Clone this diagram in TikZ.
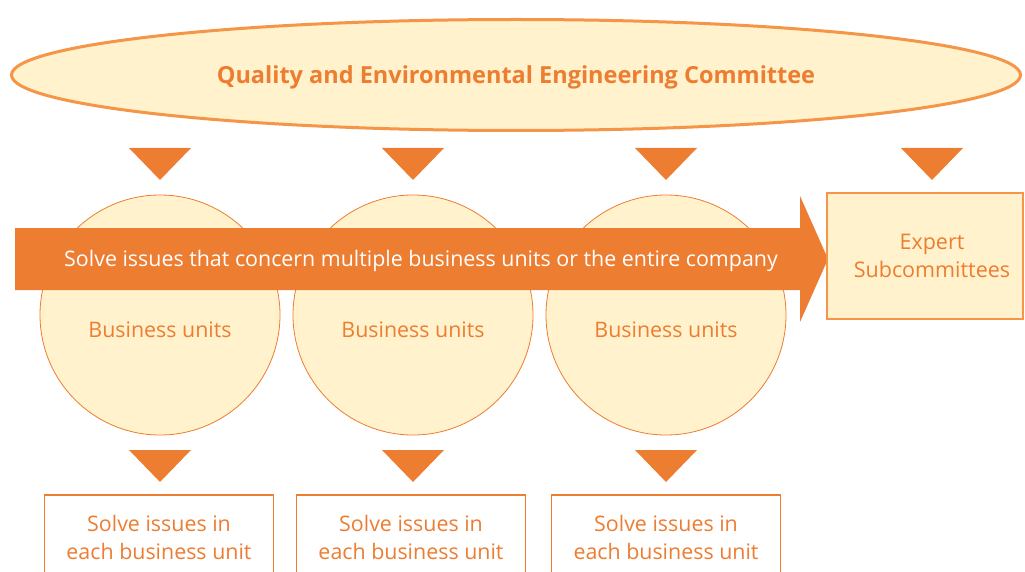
\documentclass[tikz,border=0pt]{standalone}
\usepackage{fontspec}
\setmainfont{Open Sans}
\usepackage{tikz}
\usetikzlibrary{calc,positioning,shapes.geometric}
\definecolor{qeorange}{RGB}{237,125,49}
\definecolor{qeline}{RGB}{244,149,72}
\definecolor{qecream}{RGB}{255,242,204}
\tikzset{
  committee/.style={ellipse,draw=qeline,line width=3pt,fill=qecream,
    minimum width=1009pt,minimum height=111pt,inner sep=0pt,
    font=\fontsize{23.5}{28}\selectfont\bfseries,text=qeorange},
  unit/.style={circle,draw=qeorange,line width=0.8pt,fill=qecream,
    minimum size=240pt,inner sep=0pt},
  unittext/.style={font=\fontsize{21.4}{26}\selectfont,text=qeorange},
  expertbox/.style={draw=qeline,line width=2pt,fill=qecream,
    minimum width=196pt,minimum height=126pt},
  experttext/.style={align=center,
    font=\fontsize{21.5}{28}\selectfont,text=qeorange},
  solvebox/.style={draw=qeorange,line width=1.5pt,fill=white,anchor=north,
    minimum width=229pt,minimum height=86pt,align=center,
    font=\fontsize{21.4}{28}\selectfont,text=qeorange},
  bandtext/.style={text=white,font=\fontsize{21.4}{26}\selectfont},
  downtri/.pic={\fill[qeorange] (-31,0) -- (31,0) -- (0,32) -- cycle;}
}

\begin{document}
\begin{tikzpicture}[x=1pt,y=-1pt]
  \clip (0,0) rectangle (1025,572);
  \node[committee] (qeec) at (516,75) {};
  \node[font=\fontsize{23.5}{28}\selectfont\bfseries,text=qeorange]
    at ($(qeec)+(0,2)$) {Quality and Environmental Engineering Committee};
  \foreach \x in {160,413,666,932}
    \pic at (\x,148) {downtri};
  \node[unit] (bu1) at (160,315) {};
  \node[unit] (bu2) at (413,315) {};
  \node[unit] (bu3) at (666,315) {};
  \node[unittext] at ($(bu1)+(0,15)$) {Business units};
  \node[unittext] at ($(bu2)+(0,15)$) {Business units};
  \node[unittext] at ($(bu3)+(0,15)$) {Business units};
  \fill[qeorange] (15,228) -- (800,228) -- (800,196) -- (828,259)
    -- (800,322) -- (800,290) -- (15,290) -- cycle;
  \node[bandtext] (issues) at (421,261)
    {Solve issues that concern multiple business units or the entire company};
  \node[expertbox] (expert) at (925,256) {};
  \node[experttext] at ($(expert)+(7,0)$) {Expert\\Subcommittees};
  \foreach \x in {160,413,666}
    \pic at (\x,450) {downtri};
  \node[solvebox] (solve1) at (159,494) {Solve issues in\\each business unit};
  \node[solvebox] (solve2) at (411,494) {Solve issues in\\each business unit};
  \node[solvebox] (solve3) at (666,494) {Solve issues in\\each business unit};
\end{tikzpicture}
\end{document}
